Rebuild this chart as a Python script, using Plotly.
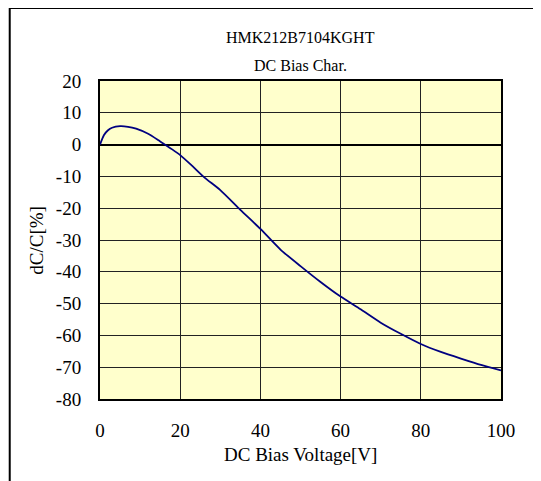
import plotly.graph_objects as go

# Data
voltage = [0, 1, 2, 3, 5, 7, 9, 12, 15, 18, 20, 23, 26, 30, 35, 40, 45, 50, 55, 60,
           65, 70, 75, 80, 85, 90, 95, 100]
dcc = [0, 3.0, 4.5, 5.3, 5.8, 5.6, 5.0, 3.4, 1.0, -1.5, -3.3, -6.7, -10.3, -14.3,
       -20.5, -26.5, -33.0, -38.2, -43.2, -47.8, -51.8, -56.0, -59.5, -62.7, -65.2,
       -67.3, -69.3, -71.0]

x_ticks = [0, 20, 40, 60, 80, 100]
y_ticks = [20, 10, 0, -10, -20, -30, -40, -50, -60, -70, -80]

title_lines = ["HMK212B7104KGHT", "DC Bias Char."]
x_title = "DC Bias Voltage[V]"
y_title = "dC/C[%]"

FONT = "Liberation Serif"
OFF = 8  # page body margin
W, H = 541 - OFF, 481 - OFF
# target plot box in window pixels: x 99.5..501.5, y 81..399
L = 99.5 - OFF
T = 81 - OFF
R = W - (501.5 - OFF)
B = H - (399 - OFF)
pw, ph = W - L - R, H - T - B

def px_x(p):
    return (p - OFF - L) / pw

def px_y(p):
    return (H - B - (p - OFF)) / ph

fig = go.Figure()
fig.add_trace(go.Scatter(
    x=voltage, y=dcc, mode="lines",
    line=dict(color="#000080", width=1.8, shape="spline", smoothing=0.6),
    showlegend=False, hoverinfo="skip",
))

fig.update_layout(
    width=W, height=H,
    margin=dict(l=L, r=R, t=T, b=B, pad=0),
    paper_bgcolor="white",
    plot_bgcolor="#FFFFCC",
    font=dict(family=FONT, size=18, color="black"),
    xaxis=dict(
        range=[0, 100], tickvals=x_ticks, ticktext=[str(v) for v in x_ticks],
        showgrid=True, gridcolor="#222222", gridwidth=1,
        zeroline=False, showline=True, linecolor="black", linewidth=2, mirror=True,
        ticks="outside", ticklen=13, tickcolor="rgba(0,0,0,0)",
        tickfont=dict(family=FONT, size=19),
        fixedrange=True,
    ),
    yaxis=dict(
        range=[-80, 20], tickvals=y_ticks, ticktext=[str(v) for v in y_ticks],
        showgrid=True, gridcolor="#222222", gridwidth=1,
        zeroline=True, zerolinecolor="black", zerolinewidth=1.5,
        showline=True, linecolor="black", linewidth=2, mirror=True,
        ticks="outside", ticklen=13, tickcolor="rgba(0,0,0,0)",
        tickfont=dict(family=FONT, size=19),
        fixedrange=True,
    ),
    shapes=[dict(
        type="rect", xref="paper", yref="paper",
        x0=px_x(9), x1=px_x(W + 60), y0=px_y(H + 60), y1=px_y(8),
        line=dict(color="black", width=2), fillcolor="rgba(0,0,0,0)", layer="below",
    )],
    annotations=[
        dict(text=title_lines[0], xref="paper", yref="paper", x=0.5, y=px_y(38),
             showarrow=False, font=dict(family=FONT, size=16), xanchor="center", yanchor="middle"),
        dict(text=title_lines[1], xref="paper", yref="paper", x=0.5, y=px_y(66),
             showarrow=False, font=dict(family=FONT, size=16), xanchor="center", yanchor="middle"),
        dict(text=x_title, xref="paper", yref="paper", x=0.5, y=px_y(454),
             showarrow=False, font=dict(family=FONT, size=19), xanchor="center", yanchor="middle"),
        dict(text=y_title, xref="paper", yref="paper", x=px_x(35), y=0.5, textangle=-90,
             showarrow=False, font=dict(family=FONT, size=19), xanchor="center", yanchor="middle"),
    ],
)

fig.write_html("out.html", config={"displayModeBar": False})
